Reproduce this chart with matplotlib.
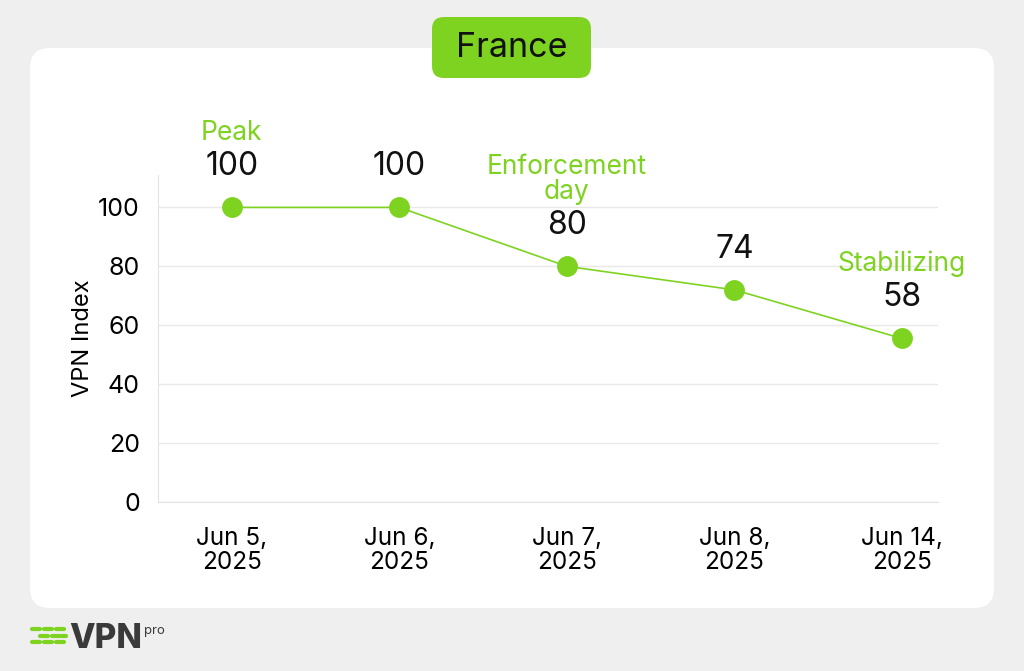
import matplotlib
matplotlib.use("Agg")
import matplotlib.pyplot as plt
from matplotlib.patches import FancyBboxPatch

plt.rcParams['font.family'] = ['Inter', 'DejaVu Sans']

# ---------- data ----------
dates = ["Jun 5,\n2025", "Jun 6,\n2025", "Jun 7,\n2025", "Jun 8,\n2025", "Jun 14,\n2025"]
vpn_index = [100, 100, 80, 72, 55.5]          # plotted position
value_labels = ["100", "100", "80", "74", "58"]  # printed label
notes = ["Peak", "", "Enforcement\nday", "", "Stabilizing"]
yticks = [0, 20, 40, 60, 80, 100]

GREEN = "#7ed321"
BG = "#efefef"

fig = plt.figure(figsize=(10.24, 6.71), dpi=100)
fig.patch.set_facecolor(BG)

# background layer in pixel coords
bg = fig.add_axes([0, 0, 1, 1], zorder=0)
bg.set_xlim(0, 1024)
bg.set_ylim(671, 0)
bg.axis("off")
bg.add_patch(FancyBboxPatch((30, 48), 964, 560, boxstyle="round,pad=0,rounding_size=20",
                            fc="white", ec="none"))
bg.add_patch(FancyBboxPatch((432, 17), 159, 61, boxstyle="round,pad=0,rounding_size=12",
                            fc=GREEN, ec="none"))
bg.text(511.5, 48, "France", ha="center", va="center", fontsize=24.5, color="#111111")

# logo
for row, segs in enumerate([[(32, 40), (44, 52), (56, 64)],
                            [(40, 48), (52, 60), (62, 66)],
                            [(32, 40), (44, 52), (56, 64)]]):
    y = 629 + row * 6.5
    for x0, x1 in segs:
        bg.plot([x0, x1], [y, y], color=GREEN, lw=3, solid_capstyle="round")
bg.text(69, 648, "VPN", fontsize=24, fontweight="heavy", color="#3a3a3a", va="baseline")
bg.text(144, 634, "pro", fontsize=9.5, color="#3a3a3a", va="baseline")

# ---------- chart ----------
ax = fig.add_axes([0.1543, 0.2519, 0.7617, 0.4873], zorder=1)
ax.patch.set_alpha(0)
x = list(range(len(dates)))
ax.plot(x, vpn_index, color=GREEN, lw=1.2, marker="o", markersize=14,
        markerfacecolor=GREEN, markeredgecolor=GREEN, zorder=3, clip_on=False)

for xi, yi, lab, note in zip(x, vpn_index, value_labels, notes):
    ax.annotate(lab, (xi, yi), xytext=(0, 18), textcoords="offset points",
                ha="center", va="bottom", fontsize=23, color="#111111")
    if note:
        ax.annotate(note, (xi, yi), xytext=(0, 44), textcoords="offset points",
                    ha="center", va="bottom", fontsize=19, color=GREEN,
                    linespacing=0.95)

ax.set_xlim(-0.44, 4.215)
ax.set_ylim(0, 111)
ax.set_yticks(yticks)
ax.set_xticks(x)
ax.set_xticklabels(dates, fontsize=17.5, linespacing=1.08)
ax.tick_params(axis="y", labelsize=18, length=0, pad=13)
ax.tick_params(axis="x", length=0, pad=18)
ax.set_ylabel("VPN Index", fontsize=17, labelpad=3)
ax.grid(axis="y", color="#e8e8e8", lw=1)
ax.set_axisbelow(True)
for side in ["top", "right"]:
    ax.spines[side].set_visible(False)
for side in ["left", "bottom"]:
    ax.spines[side].set_color("#e3e3e3")

fig.savefig("out.png", dpi=100, facecolor=BG)
